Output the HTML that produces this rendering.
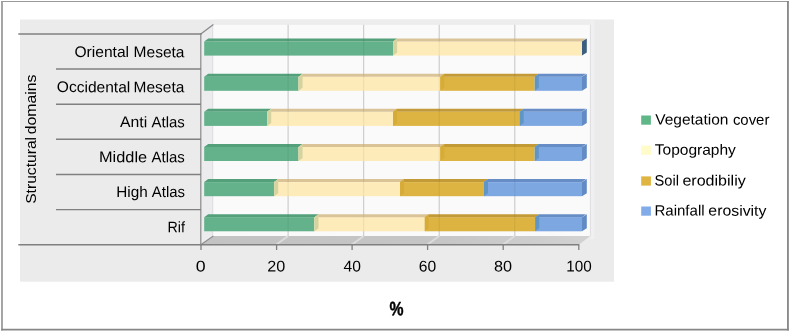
<!DOCTYPE html>
<html lang="en"><head><meta charset="utf-8"><title>Chart</title>
<style>html,body{margin:0;padding:0;background:#fff}svg{display:block}text{font-family:"Liberation Sans",sans-serif;fill:#000}</style></head><body>
<svg width="790" height="332" viewBox="0 0 790 332">
<rect x="0" y="0" width="790" height="332" fill="#fff"/>
<g>
<line x1="1.1" y1="1.45" x2="788.9" y2="1.45" stroke="#9a9a9a" stroke-width="1.1"/>
<line x1="2.0" y1="1.0" x2="2.0" y2="330.5" stroke="#9c9c9c" stroke-width="1.8"/>
<line x1="787.95" y1="1.0" x2="787.95" y2="330.5" stroke="#868686" stroke-width="1.8"/>
<line x1="1.1" y1="329.7" x2="788.9" y2="329.7" stroke="#878787" stroke-width="1.8"/>
<rect x="20" y="19.5" width="594" height="262.2" fill="#ebebeb"/>
<rect x="213.2" y="19.5" width="377.1" height="5.3" fill="#ededee"/>
<rect x="590.3" y="20.6" width="4.1" height="218.4" fill="#f0f0f2"/>
<polygon points="201,33.9 213.2,24.7 213.2,236 201,244.7" fill="#ececee"/>
<rect x="213.2" y="24.8" width="377.1" height="211.2" fill="#fafafb"/>
<defs><linearGradient id="fl" x1="0" y1="0" x2="1" y2="0"><stop offset="0" stop-color="#c3c3c3"/><stop offset="0.6" stop-color="#c5c5c5"/><stop offset="1" stop-color="#d2d2d2"/></linearGradient></defs>
<polygon points="201,244.7 213.2,236 590.3,236 578.8,244.7" fill="url(#fl)"/>
<line x1="212.6" y1="24.8" x2="212.6" y2="236" stroke="#dedee0" stroke-width="1.0"/>
<line x1="288.1" y1="24.8" x2="288.1" y2="236" stroke="#d4d4d6" stroke-width="1.0"/>
<line x1="363.7" y1="24.8" x2="363.7" y2="236" stroke="#d4d4d6" stroke-width="1.0"/>
<line x1="439.2" y1="24.8" x2="439.2" y2="236" stroke="#d4d4d6" stroke-width="1.0"/>
<line x1="514.8" y1="24.8" x2="514.8" y2="236" stroke="#d4d4d6" stroke-width="1.0"/>
<line x1="590.4" y1="24.8" x2="590.4" y2="236" stroke="#dedee0" stroke-width="1.0"/>
<line x1="288.1" y1="236" x2="276.1" y2="244.7" stroke="#dcdcdc" stroke-width="1.9"/>
<line x1="363.7" y1="236" x2="351.7" y2="244.7" stroke="#dcdcdc" stroke-width="1.9"/>
<line x1="439.2" y1="236" x2="427.2" y2="244.7" stroke="#dcdcdc" stroke-width="1.9"/>
<line x1="514.8" y1="236" x2="502.8" y2="244.7" stroke="#dcdcdc" stroke-width="1.9"/>
<line x1="200.8" y1="33.9" x2="213.4" y2="24.4" stroke="#8a8a8a" stroke-width="1.3"/>
<line x1="200.8" y1="244.7" x2="213.4" y2="236.1" stroke="#8f8f8f" stroke-width="1.2"/>
<rect x="204.2" y="41.5" width="188.9" height="14.1" fill="#63b28b"/>
<polygon points="204.2,41.5 208.2,38.5 397.1,38.5 393.1,41.5" fill="#53a07b"/>
<rect x="393.1" y="41.5" width="188.9" height="14.1" fill="#fdecb9"/>
<polygon points="393.1,41.5 397.1,38.5 586.0,38.5 582.0,41.5" fill="#d9c397"/>
<polygon points="393.1,41.5 397.1,38.8 397.1,52.6 393.1,55.6" fill="#d5d3a0"/>
<polygon points="582.0,41.5 586.8,38.5 586.8,52.6 582.0,55.6" fill="#3c5f80"/>
<rect x="204.2" y="76.7" width="94.4" height="14.1" fill="#63b28b"/>
<polygon points="204.2,76.7 208.2,73.7 302.6,73.7 298.6,76.7" fill="#53a07b"/>
<rect x="298.6" y="76.7" width="141.7" height="14.1" fill="#fdecb9"/>
<polygon points="298.6,76.7 302.6,73.7 444.3,73.7 440.3,76.7" fill="#d9c397"/>
<rect x="440.3" y="76.7" width="94.4" height="14.1" fill="#ddb441"/>
<polygon points="440.3,76.7 444.3,73.7 538.8,73.7 534.8,76.7" fill="#c39b36"/>
<rect x="534.8" y="76.7" width="47.2" height="14.1" fill="#7da7e1"/>
<polygon points="534.8,76.7 538.8,73.7 586.0,73.7 582.0,76.7" fill="#668dc5"/>
<polygon points="298.6,76.7 302.6,73.9 302.6,87.8 298.6,90.8" fill="#d5d3a0"/>
<polygon points="440.3,76.7 444.3,73.9 444.3,87.8 440.3,90.8" fill="#d7ab38"/>
<polygon points="534.8,76.7 538.8,73.9 538.8,87.8 534.8,90.8" fill="#6096c6"/>
<polygon points="582.0,76.7 586.8,73.7 586.8,87.8 582.0,90.8" fill="#628bc6"/>
<rect x="204.2" y="111.8" width="63.0" height="14.1" fill="#63b28b"/>
<polygon points="204.2,111.8 208.2,108.8 271.2,108.8 267.2,111.8" fill="#53a07b"/>
<rect x="267.2" y="111.8" width="125.9" height="14.1" fill="#fdecb9"/>
<polygon points="267.2,111.8 271.2,108.8 397.1,108.8 393.1,111.8" fill="#d9c397"/>
<rect x="393.1" y="111.8" width="126.6" height="14.1" fill="#ddb441"/>
<polygon points="393.1,111.8 397.1,108.8 523.7,108.8 519.7,111.8" fill="#c39b36"/>
<rect x="519.7" y="111.8" width="62.3" height="14.1" fill="#7da7e1"/>
<polygon points="519.7,111.8 523.7,108.8 586.0,108.8 582.0,111.8" fill="#668dc5"/>
<polygon points="267.2,111.8 271.2,109.0 271.2,122.9 267.2,125.9" fill="#d5d3a0"/>
<polygon points="393.1,111.8 397.1,109.0 397.1,122.9 393.1,125.9" fill="#d7ab38"/>
<polygon points="519.7,111.8 523.7,109.0 523.7,122.9 519.7,125.9" fill="#6096c6"/>
<polygon points="582.0,111.8 586.8,108.8 586.8,122.9 582.0,125.9" fill="#628bc6"/>
<rect x="204.2" y="146.9" width="94.4" height="14.1" fill="#63b28b"/>
<polygon points="204.2,146.9 208.2,143.9 302.6,143.9 298.6,146.9" fill="#53a07b"/>
<rect x="298.6" y="146.9" width="141.7" height="14.1" fill="#fdecb9"/>
<polygon points="298.6,146.9 302.6,143.9 444.3,143.9 440.3,146.9" fill="#d9c397"/>
<rect x="440.3" y="146.9" width="94.4" height="14.1" fill="#ddb441"/>
<polygon points="440.3,146.9 444.3,143.9 538.8,143.9 534.8,146.9" fill="#c39b36"/>
<rect x="534.8" y="146.9" width="47.2" height="14.1" fill="#7da7e1"/>
<polygon points="534.8,146.9 538.8,143.9 586.0,143.9 582.0,146.9" fill="#668dc5"/>
<polygon points="298.6,146.9 302.6,144.1 302.6,158.0 298.6,161.0" fill="#d5d3a0"/>
<polygon points="440.3,146.9 444.3,144.1 444.3,158.0 440.3,161.0" fill="#d7ab38"/>
<polygon points="534.8,146.9 538.8,144.1 538.8,158.0 534.8,161.0" fill="#6096c6"/>
<polygon points="582.0,146.9 586.8,143.9 586.8,158.0 582.0,161.0" fill="#628bc6"/>
<rect x="204.2" y="182.1" width="70.0" height="14.1" fill="#63b28b"/>
<polygon points="204.2,182.1 208.2,179.1 278.2,179.1 274.2,182.1" fill="#53a07b"/>
<rect x="274.2" y="182.1" width="125.9" height="14.1" fill="#fdecb9"/>
<polygon points="274.2,182.1 278.2,179.1 404.1,179.1 400.1,182.1" fill="#d9c397"/>
<rect x="400.1" y="182.1" width="83.9" height="14.1" fill="#ddb441"/>
<polygon points="400.1,182.1 404.1,179.1 488.0,179.1 484.0,182.1" fill="#c39b36"/>
<rect x="484.0" y="182.1" width="98.0" height="14.1" fill="#7da7e1"/>
<polygon points="484.0,182.1 488.0,179.1 586.0,179.1 582.0,182.1" fill="#668dc5"/>
<polygon points="274.2,182.1 278.2,179.3 278.2,193.2 274.2,196.2" fill="#d5d3a0"/>
<polygon points="400.1,182.1 404.1,179.3 404.1,193.2 400.1,196.2" fill="#d7ab38"/>
<polygon points="484.0,182.1 488.0,179.3 488.0,193.2 484.0,196.2" fill="#6096c6"/>
<polygon points="582.0,182.1 586.8,179.1 586.8,193.2 582.0,196.2" fill="#628bc6"/>
<rect x="204.2" y="217.2" width="110.3" height="14.1" fill="#63b28b"/>
<polygon points="204.2,217.2 208.2,214.2 318.5,214.2 314.5,217.2" fill="#53a07b"/>
<rect x="314.5" y="217.2" width="110.3" height="14.1" fill="#fdecb9"/>
<polygon points="314.5,217.2 318.5,214.2 428.8,214.2 424.8,217.2" fill="#d9c397"/>
<rect x="424.8" y="217.2" width="110.3" height="14.1" fill="#ddb441"/>
<polygon points="424.8,217.2 428.8,214.2 539.2,214.2 535.2,217.2" fill="#c39b36"/>
<rect x="535.2" y="217.2" width="46.8" height="14.1" fill="#7da7e1"/>
<polygon points="535.2,217.2 539.2,214.2 586.0,214.2 582.0,217.2" fill="#668dc5"/>
<polygon points="314.5,217.2 318.5,214.4 318.5,228.3 314.5,231.3" fill="#d5d3a0"/>
<polygon points="424.8,217.2 428.8,214.4 428.8,228.3 424.8,231.3" fill="#d7ab38"/>
<polygon points="535.2,217.2 539.2,214.4 539.2,228.3 535.2,231.3" fill="#6096c6"/>
<polygon points="582.0,217.2 586.8,214.2 586.8,228.3 582.0,231.3" fill="#628bc6"/>
<line x1="288.1" y1="24.8" x2="288.1" y2="236" stroke="#000" stroke-opacity="0.07" stroke-width="1.0"/>
<line x1="363.7" y1="24.8" x2="363.7" y2="236" stroke="#000" stroke-opacity="0.07" stroke-width="1.0"/>
<line x1="439.2" y1="24.8" x2="439.2" y2="236" stroke="#000" stroke-opacity="0.07" stroke-width="1.0"/>
<line x1="514.8" y1="24.8" x2="514.8" y2="236" stroke="#000" stroke-opacity="0.07" stroke-width="1.0"/>
<line x1="200.8" y1="33.3" x2="200.8" y2="245.5" stroke="#8a8a8a" stroke-width="1.2"/>
<line x1="18.3" y1="33.9" x2="201.5" y2="33.9" stroke="#808080" stroke-width="1.5"/>
<line x1="18.3" y1="244.75" x2="579.3" y2="244.75" stroke="#808080" stroke-width="1.5"/>
<line x1="56" y1="69.04" x2="201" y2="69.04" stroke="#808080" stroke-width="1.4"/>
<line x1="56" y1="104.18" x2="201" y2="104.18" stroke="#808080" stroke-width="1.4"/>
<line x1="56" y1="139.32" x2="201" y2="139.32" stroke="#808080" stroke-width="1.4"/>
<line x1="56" y1="174.46" x2="201" y2="174.46" stroke="#808080" stroke-width="1.4"/>
<line x1="56" y1="209.60" x2="201" y2="209.60" stroke="#808080" stroke-width="1.4"/>
<line x1="201.0" y1="244.7" x2="201.0" y2="250" stroke="#808080" stroke-width="1.3"/>
<line x1="276.6" y1="244.7" x2="276.6" y2="250" stroke="#808080" stroke-width="1.3"/>
<line x1="352.1" y1="244.7" x2="352.1" y2="250" stroke="#808080" stroke-width="1.3"/>
<line x1="427.6" y1="244.7" x2="427.6" y2="250" stroke="#808080" stroke-width="1.3"/>
<line x1="503.2" y1="244.7" x2="503.2" y2="250" stroke="#808080" stroke-width="1.3"/>
<line x1="578.8" y1="244.7" x2="578.8" y2="250" stroke="#808080" stroke-width="1.3"/>
<text transform="translate(74.50,57.00) rotate(0.1)" font-size="15.3"><tspan x="0.00" textLength="54.54" lengthAdjust="spacingAndGlyphs">Oriental</tspan><tspan> </tspan><tspan x="59.07" textLength="50.94" lengthAdjust="spacingAndGlyphs">Meseta</tspan></text>
<text transform="translate(56.82,92.10) rotate(0.1)" font-size="15.3"><tspan x="0.00" textLength="73.44" lengthAdjust="spacingAndGlyphs">Occidental</tspan><tspan> </tspan><tspan x="76.74" textLength="50.74" lengthAdjust="spacingAndGlyphs">Meseta</tspan></text>
<text transform="translate(119.99,127.10) rotate(0.1)" font-size="15.3"><tspan x="0.00" textLength="27.16" lengthAdjust="spacingAndGlyphs">Anti</tspan><tspan> </tspan><tspan x="31.61" textLength="33.25" lengthAdjust="spacingAndGlyphs">Atlas</tspan></text>
<text transform="translate(99.02,162.10) rotate(0.1)" font-size="15.3"><tspan x="0.00" textLength="48.07" lengthAdjust="spacingAndGlyphs">Middle</tspan><tspan> </tspan><tspan x="52.58" textLength="33.25" lengthAdjust="spacingAndGlyphs">Atlas</tspan></text>
<text transform="translate(116.32,197.00) rotate(0.1)" font-size="15.3"><tspan x="0.00" textLength="31.43" lengthAdjust="spacingAndGlyphs">High</tspan><tspan> </tspan><tspan x="35.52" textLength="33.08" lengthAdjust="spacingAndGlyphs">Atlas</tspan></text>
<text transform="translate(167.47,232.30) rotate(0.1)" font-size="15.3"><tspan x="0.00" textLength="17.41" lengthAdjust="spacingAndGlyphs">Rif</tspan></text>
<text transform="translate(36.0,204.0) rotate(-90)" font-size="14.6"><tspan x="0.17" textLength="66.91" lengthAdjust="spacingAndGlyphs">Structural</tspan><tspan> </tspan><tspan x="69.67" textLength="59.78" lengthAdjust="spacingAndGlyphs">domains</tspan></text>
<text transform="translate(195.70,271.55) rotate(0.1)" font-size="15.5"><tspan x="0.00" textLength="9.85" lengthAdjust="spacingAndGlyphs">0</tspan></text>
<text transform="translate(267.21,271.55) rotate(0.1)" font-size="15.5"><tspan x="0.00" textLength="17.99" lengthAdjust="spacingAndGlyphs">20</tspan></text>
<text transform="translate(343.58,271.55) rotate(0.1)" font-size="15.5"><tspan x="0.00" textLength="17.35" lengthAdjust="spacingAndGlyphs">40</tspan></text>
<text transform="translate(418.84,271.55) rotate(0.1)" font-size="15.5"><tspan x="0.00" textLength="17.36" lengthAdjust="spacingAndGlyphs">60</tspan></text>
<text transform="translate(494.09,271.55) rotate(0.1)" font-size="15.5"><tspan x="0.00" textLength="18.02" lengthAdjust="spacingAndGlyphs">80</tspan></text>
<text transform="translate(566.28,271.55) rotate(0.1)" font-size="15.5"><tspan x="0.00" textLength="25.41" lengthAdjust="spacingAndGlyphs">100</tspan></text>
<text transform="translate(389.4,315.2) rotate(0.1)" font-size="19.4" font-weight="bold" stroke="#000" stroke-width="0.45" textLength="14.0" lengthAdjust="spacingAndGlyphs">%</text>
<rect x="641.2" y="115.5" width="9.7" height="9.2" fill="#5fb787"/>
<rect x="641.2" y="145.6" width="9.7" height="9.2" fill="#fffcca"/>
<rect x="641.2" y="176.4" width="9.7" height="9.2" fill="#dfb440"/>
<rect x="641.2" y="206.5" width="9.7" height="9.2" fill="#82abea"/>
<text transform="translate(655.20,124.50) rotate(0.1)" font-size="14.9"><tspan x="0.00" textLength="73.26" lengthAdjust="spacingAndGlyphs">Vegetation</tspan><tspan> </tspan><tspan x="77.70" textLength="36.49" lengthAdjust="spacingAndGlyphs">cover</tspan></text>
<text transform="translate(654.73,154.60) rotate(0.1)" font-size="14.9"><tspan x="0.00" textLength="81.15" lengthAdjust="spacingAndGlyphs">Topography</tspan></text>
<text transform="translate(654.49,185.40) rotate(0.1)" font-size="14.9"><tspan x="0.00" textLength="24.48" lengthAdjust="spacingAndGlyphs">Soil</tspan><tspan> </tspan><tspan x="27.96" textLength="63.30" lengthAdjust="spacingAndGlyphs">erodibiliy</tspan></text>
<text transform="translate(654.41,215.50) rotate(0.1)" font-size="14.9"><tspan x="0.00" textLength="50.17" lengthAdjust="spacingAndGlyphs">Rainfall</tspan><tspan> </tspan><tspan x="53.96" textLength="58.05" lengthAdjust="spacingAndGlyphs">erosivity</tspan></text>
</g>
</svg></body></html>
